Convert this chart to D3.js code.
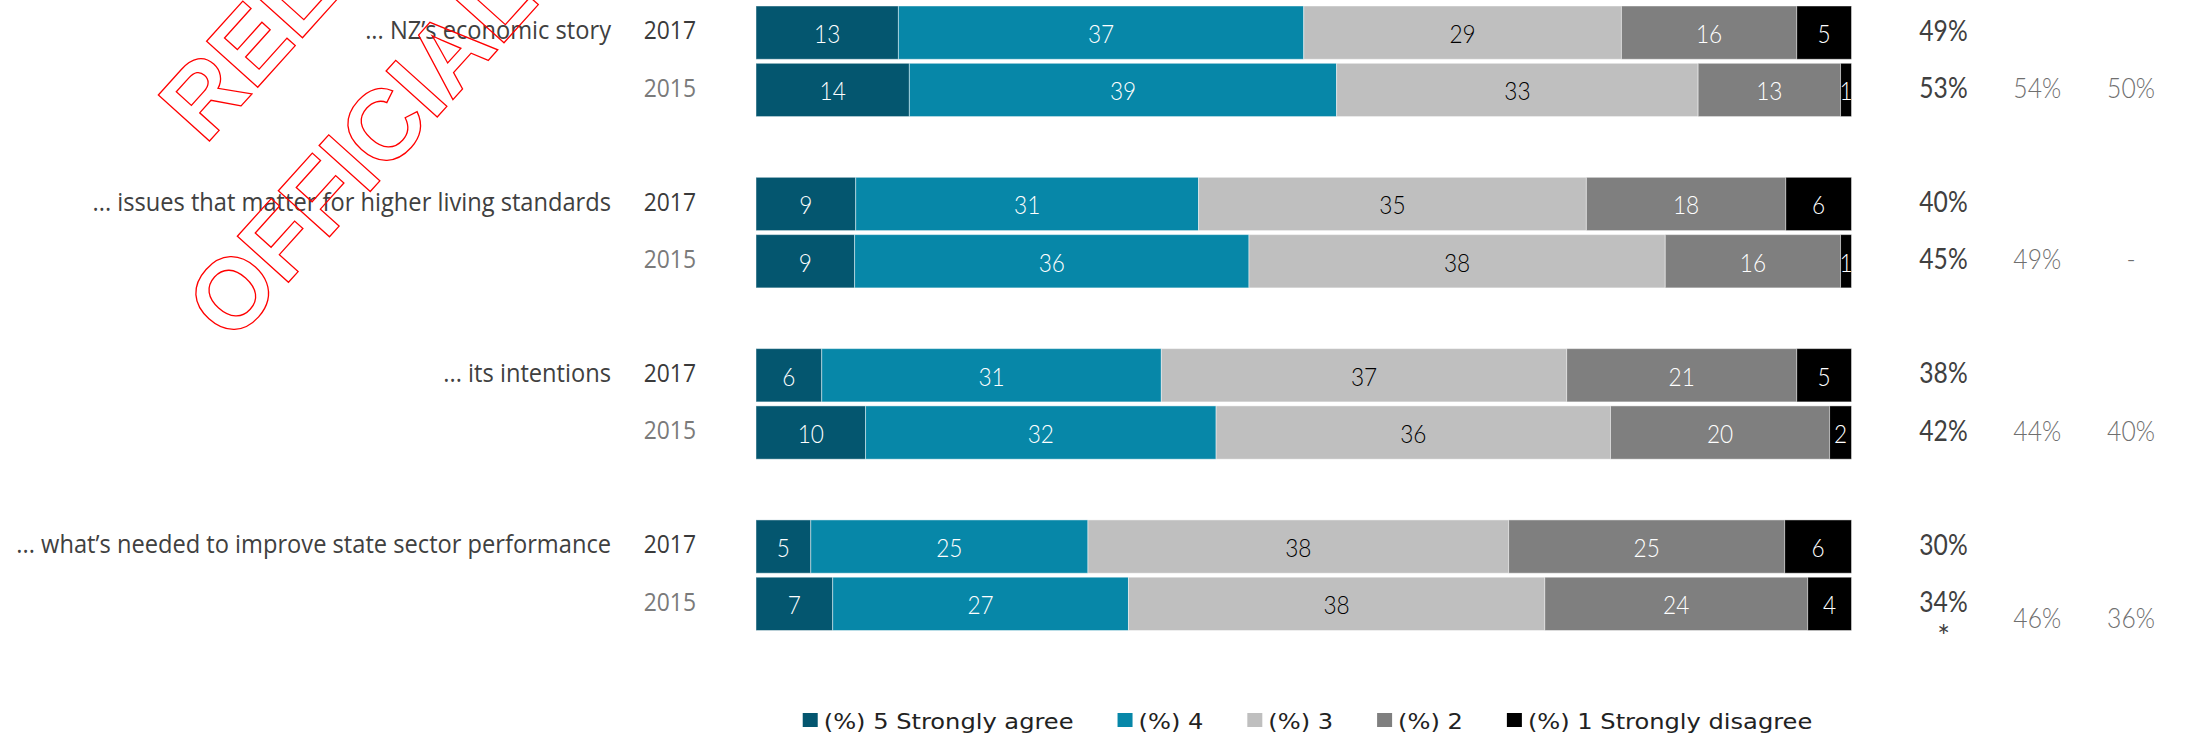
<!DOCTYPE html>
<html><head><meta charset="utf-8">
<script src="https://cdn.jsdelivr.net/npm/d3@7"></script>
<style>html,body{margin:0;padding:0;background:#fff;} svg{display:block}</style>
</head><body>
<svg id="chart" width="2186" height="736"></svg>
<script>
// ---------- DATA ----------
const categories = [
  "... NZ\u2019s economic story",
  "... issues that matter for higher living standards",
  "... its intentions",
  "... what\u2019s needed to improve state sector performance"
];
const years = ["2017", "2015"];
const levels = ["(%) 5 Strongly agree", "(%) 4", "(%) 3", "(%) 2", "(%) 1 Strongly disagree"];
const values2017 = [
  [13, 37, 29, 16, 5],
  [9.1, 31.3, 35.4, 18.2, 6.0],
  [6, 31, 37, 21, 5],
  [5, 25.3, 38.4, 25.2, 6.1]
];
const values2015 = [
  [14, 39, 33, 13, 1],
  [9, 36, 38, 16, 1],
  [10, 32, 36, 20, 2],
  [7, 27, 38, 24, 4]
];
const net2017 = ["49%", "40%", "38%", "30%"];
const net2015 = ["53%", "45%", "42%", "34%"];
const earlierA = ["54%", "49%", "44%", "46%"];
const earlierB = ["50%", "-", "40%", "36%"];
const footnotes = ["", "", "", "*"];
const watermarkLines = ["RELEASED", "OFFICIAL"];

// ---------- STYLE ----------
const colors = ["#04566f", "#0787a8", "#bfbfbf", "#7f7f7f", "#000000"];
const labelColors = ["#ffffff", "#ffffff", "#000000", "#ffffff", "#ffffff"];
const LABEL_FONT = "'Open Sans', 'Noto Sans', sans-serif";
const NUM_FONT = "Lato, 'Open Sans', sans-serif";
const LEG_FONT = "'DejaVu Sans', sans-serif";

const svg = d3.select("#chart");

const x = d3.scaleLinear().domain([0, 100]).range([756, 1851.5]);
const yGroup = d3.scaleBand().domain(categories).range([6, 630.5]).paddingInner(0.3545).paddingOuter(0);
const yYear = d3.scaleBand().domain(years).range([0, yGroup.bandwidth()]).paddingInner(0.07);
const pctX = d3.scalePoint().domain(["net", "a", "b"]).range([1943.5, 2131]);

const rows = categories.flatMap((c, i) => years.map(yr => {
  const vals = yr === "2017" ? values2017[i] : values2015[i];
  const ends = d3.cumsum(vals);
  return {
    cat: c, idx: i, year: yr,
    segs: vals.map((v, k) => ({ v, k, x0: ends[k] - v, x1: ends[k] })),
    net: yr === "2017" ? net2017[i] : net2015[i],
    top: yGroup(c) + yYear(yr)
  };
}));
const bh = yYear.bandwidth();

function sText(g, tx, ty, txt, k, anchor) {
  return g.append("text")
    .attr("transform", `translate(${tx},${ty}) scale(${k},1)`)
    .attr("text-anchor", anchor)
    .text(txt);
}

// ---------- BARS ----------
const rowG = svg.append("g").selectAll("g.row").data(rows).join("g").attr("class", "row");
rowG.selectAll("rect").data(d => d.segs.map(s => ({ ...s, top: d.top })))
  .join("rect")
  .attr("x", s => x(s.x0))
  .attr("y", s => s.top)
  .attr("width", s => x(s.x1) - x(s.x0))
  .attr("height", bh)
  .attr("fill", s => colors[s.k])
  .attr("stroke", "#ffffff")
  .attr("stroke-opacity", 0.45)
  .attr("stroke-width", 1);

rowG.each(function (d) {
  const g = d3.select(this);
  d.segs.forEach(s => {
    sText(g, (x(s.x0) + x(s.x1)) / 2, d.top + bh / 2 + 10.5, d3.format(".0f")(s.v), 0.87, "middle")
      .attr("font-family", NUM_FONT).attr("font-size", 26).attr("font-weight", 300)
      .attr("fill", labelColors[s.k]);
  });
  // year label
  sText(g, 696, d.top + bh / 2 + 6.7, d.year, 0.88, "end")
    .attr("font-family", LABEL_FONT).attr("font-size", 26)
    .attr("fill", d.year === "2017" ? "#3a3a3a" : "#7a7a7a");
  // category label
  if (d.year === "2017") {
    sText(g, 611, d.top + bh / 2 + 6.7, d.cat, 0.91, "end")
      .attr("font-family", LABEL_FONT).attr("font-size", 26).attr("fill", "#404040");
  }
  // net percentage
  const cy = d.top + bh / 2;
  sText(g, pctX("net"), cy + 8, d.net, 0.88, "middle")
    .attr("font-family", NUM_FONT).attr("font-size", 28).attr("fill", "#404040");
  if (d.year === "2015") {
    const fn = footnotes[d.idx];
    const off = fn ? 24.3 : 8;
    if (fn) {
      sText(g, pctX("net"), cy + 43, fn, 1, "middle")
        .attr("font-family", NUM_FONT).attr("font-size", 30).attr("fill", "#404040");
    }
    sText(g, pctX("a"), cy + off, earlierA[d.idx], 0.88, "middle")
      .attr("font-family", NUM_FONT).attr("font-size", 28).attr("font-weight", 300).attr("fill", "#6f6f6f");
    sText(g, pctX("b"), cy + off, earlierB[d.idx], 0.88, "middle")
      .attr("font-family", NUM_FONT).attr("font-size", 28).attr("font-weight", 300).attr("fill", "#6f6f6f");
  }
});

// ---------- LEGEND ----------
const leg = svg.append("g");
const LK = 1.15, SQ = 15, GAP_IN = 6, GAP_OUT = 44;
let cursor = 0;
levels.forEach((lab, k) => {
  const it = leg.append("g");
  it.append("rect").attr("x", 0).attr("y", 713).attr("width", SQ).attr("height", 14).attr("fill", colors[k]);
  const t = sText(it, SQ + GAP_IN, 729.3, lab, LK, "start")
    .attr("font-family", LEG_FONT).attr("font-size", 21).attr("fill", "#222222");
  const w = SQ + GAP_IN + t.node().getComputedTextLength() * LK;
  it.attr("transform", `translate(${cursor},0)`);
  cursor += w + GAP_OUT;
});
const totalW = cursor - GAP_OUT;
leg.attr("transform", `translate(${1307.5 - totalW / 2},0)`);

// ---------- WATERMARK ----------
const wm = svg.append("g");
const wmPos = [[205, 146], [232, 345]];
watermarkLines.forEach((w, i) => {
  wm.append("text")
    .attr("transform", `translate(${wmPos[i][0]},${wmPos[i][1]}) rotate(-48)`)
    .attr("font-family", "'Liberation Sans', Arial, sans-serif")
    .attr("font-weight", "bold").attr("font-size", 100)
    .attr("fill", "none").attr("stroke", "#ff0000").attr("stroke-width", 1.3)
    .text(w);
});
</script>
</body></html>
